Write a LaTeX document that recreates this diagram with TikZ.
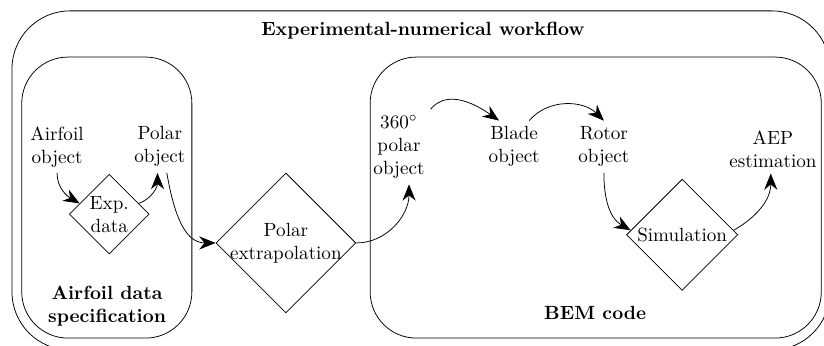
\documentclass[tikz,border=0pt]{standalone}
\usepackage{tikz}
\usetikzlibrary{arrows.meta,shapes.geometric}

\begin{document}
\begin{tikzpicture}[
  item/.style={align=center,inner sep=3pt},
  decision/.style={draw,shape=diamond,aspect=1,align=center,inner sep=0pt},
  group/.style={draw,rounded corners=0.85cm},
  heading/.style={font=\bfseries,align=center},
  link/.style={-{Stealth[length=3mm,width=2.4mm]},draw=black}
]
\useasboundingbox (0,0) rectangle (15.16,-6.35);
% frames
\draw[rounded corners=1.07cm] (0.22,-0.20) rectangle (15.27,-6.44);
\draw[group] (0.40,-1.05) rectangle (3.53,-6.22);
\draw[group] (6.81,-1.05) rectangle (15.11,-6.22);
\node[heading] (title) at (7.78,-0.57) {Experimental-numerical workflow};
\node[heading] (spec) at (1.97,-5.63) {Airfoil data\\specification};
\node[heading] (bem) at (10.95,-5.76) {BEM code};
% airfoil data
\node[item] (airfoil) at (1.05,-2.70) {Airfoil\\object};
\node[item] (polar) at (2.94,-2.70) {Polar\\object};
\node[decision,minimum size=1.47cm] (exp) at (2.01,-3.94) {Exp.\\data};
\node[decision,inner sep=-1.5pt] (polarext) at (5.26,-4.47) {Polar\\extrapolation};
% BEM code
\node[item] (polobj) at (7.34,-2.70) {$360^\circ$\\polar\\object};
\node[item] (blade) at (9.46,-2.70) {Blade\\object};
\node[item] (rotor) at (11.11,-2.70) {Rotor\\object};
\node[item] (aep) at (14.22,-2.74) {AEP\\estimation};
\node[decision,inner sep=1pt,minimum size=2.04cm] (sim) at (12.55,-4.32) {Simulation};
% connectors
\draw[link] (airfoil.south) to[out=-90,in=150] (exp.160);
\draw[link] (exp.20) to[out=20,in=-90] (polar.-95);
\draw[link] (polar.-75) to[out=-80,in=180] (polarext.west);
\draw[link] (polarext.east) to[out=0,in=-90] (polobj.-75);
\draw[link] (polobj.north east) to[out=50,in=145] (blade.120);
\draw[link] (blade.60) to[out=50,in=135] (rotor.north);
\draw[link] (rotor.south) to[out=-90,in=150] (sim.175);
\draw[link] (sim.5) to[out=30,in=-90] (aep.-95);
\end{tikzpicture}
\end{document}
